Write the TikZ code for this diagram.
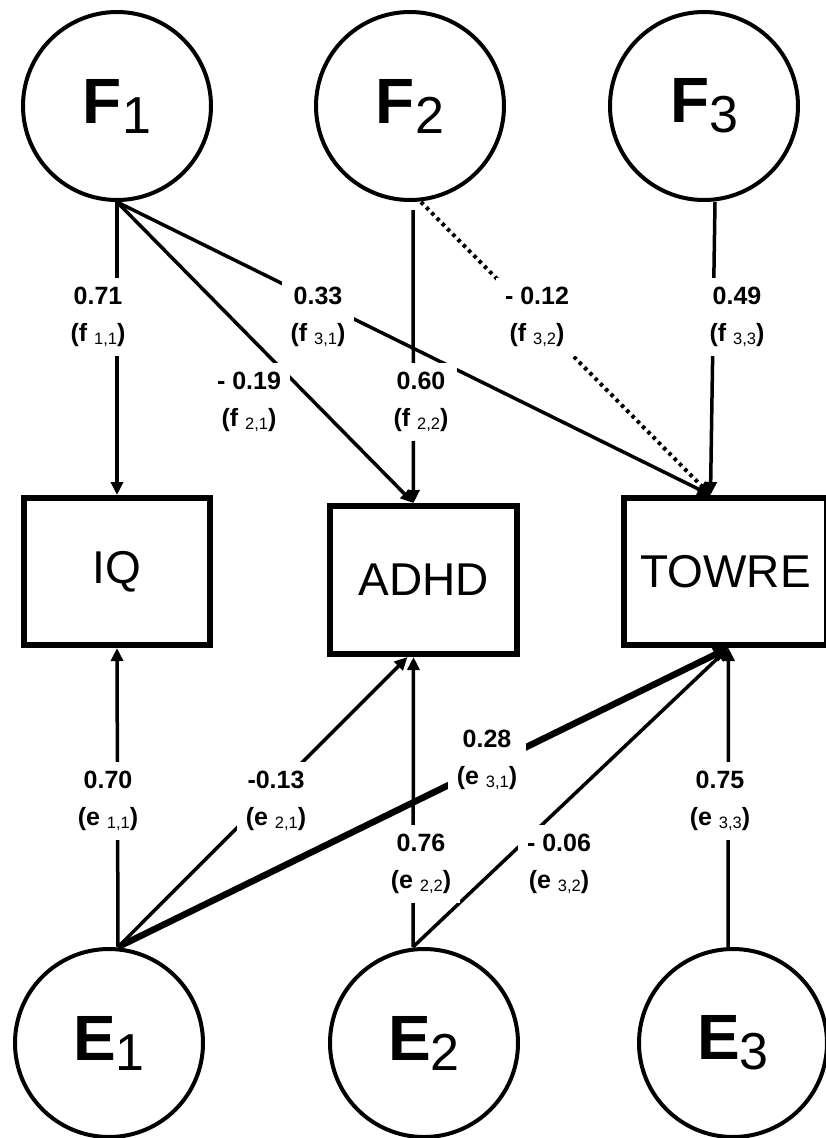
\documentclass[tikz,border=0pt]{standalone}
\usepackage{fontspec}
\setmainfont{Liberation Sans}
\usetikzlibrary{arrows.meta,calc}
\newcommand{\lsub}[1]{{\mdseries\fontsize{16.5}{16.5}\selectfont\raisebox{-3pt}{#1}}}
\newcommand{\bigsub}[2]{{\bfseries #1}{\mdseries\fontsize{52}{52}\selectfont\raisebox{-10pt}{#2}}}
\begin{document}
\begin{tikzpicture}[x=1pt,y=-1pt,
  latent/.style={circle,draw,line width=4pt,minimum size=188pt,inner sep=0pt,font=\fontsize{64}{64}\selectfont},
  obs/.style={rectangle,draw,line width=6pt,inner sep=0pt,font=\fontsize{46}{46}\selectfont},
  conn/.style={line width=3.5pt,-{Triangle[length=13pt,width=12pt]}},
  thickconn/.style={line width=6.5pt,-{Triangle[length=15pt,width=14pt]}},
  dotconn/.style={line width=4pt,dash pattern=on 3.5pt off 4pt,-{Triangle[length=13pt,width=12pt]}},
  lbl/.style={fill=white,align=center,inner xsep=9pt,inner ysep=9pt,font=\fontsize{25}{37}\selectfont\bfseries}]
\useasboundingbox (0,0) rectangle (825,1138);
\fill[white] (0,0) rectangle (825,1138);

% latent factors
\node[latent] (F1) at (117,106) {\bigsub{F}{1}};
\node[latent] (F2) at (410,106) {\bigsub{F}{2}};
\node[latent] (F3) at (704,106) {\bigsub{F}{3}};
% observed
\node[obs,minimum width=186pt,minimum height=147pt] (IQ) at (117,571.5) {IQ};
\node[obs,minimum width=187pt,minimum height=148pt] (ADHD) at (423.5,580) {ADHD};
\node[obs,minimum width=203pt,minimum height=147pt] (TOWRE) at (725.5,571.5) {TOWRE};
% errors
\node[latent] (E1) at (109,1043) {\bigsub{E}{1}};
\node[latent] (E2) at (424,1043) {\bigsub{E}{2}};
\node[latent] (E3) at (733,1043) {\bigsub{E}{3}};

% top paths
\draw[conn] (F1.south) -- (IQ.north);
\draw[conn] (F1.south) -- ([xshift=-10pt]ADHD.north);
\draw[conn] (F1.south) -- ([xshift=-15pt]TOWRE.north);
\draw[conn,shorten <=8pt] ([xshift=3pt]F2.south) -- ([xshift=-10pt]ADHD.north);
\draw[dotconn] ([xshift=11pt]F2.south) -- ([xshift=-15pt]TOWRE.north);
\draw[conn] ([xshift=11pt]F3.south) -- ([xshift=-15pt]TOWRE.north);

% bottom paths
\draw[conn] ([xshift=9pt]E1.north) -- (IQ.south);
\draw[conn] ([xshift=9pt]E1.north) -- ([xshift=-16pt]ADHD.south);
\draw[thickconn] ([xshift=9pt]E1.north) -- ([xshift=3pt]TOWRE.south);
\draw[conn] ([xshift=-11pt]E2.north) -- ([xshift=-10pt]ADHD.south);
\draw[conn] ([xshift=-11pt]E2.north) -- ([xshift=3pt]TOWRE.south);
\draw[conn] ([xshift=-5pt]E3.north) -- ([xshift=3pt]TOWRE.south);

% labels
\node[lbl] (lf11) at (98,317) {0.71\\(f \lsub{1,1})};
\node[lbl] (lf31) at (318,317) {0.33\\(f \lsub{3,1})};
\node[lbl] (lf32) at (537,317) {- 0.12\\(f \lsub{3,2})};
\node[lbl] (lf33) at (737,317) {0.49\\(f \lsub{3,3})};
\node[lbl] (lf21) at (249,402) {- 0.19\\(f \lsub{2,1})};
\node[lbl] (lf22) at (421,402) {0.60\\(f \lsub{2,2})};

\node[lbl] (le11) at (108,801) {0.70\\(e \lsub{1,1})};
\node[lbl] (le21) at (276,801) {-0.13\\(e \lsub{2,1})};
\node[lbl] (le31) at (487,760) {0.28\\(e \lsub{3,1})};
\node[lbl] (le22) at (421,864) {0.76\\(e \lsub{2,2})};
\node[lbl] (le32) at (559,864) {- 0.06\\(e \lsub{3,2})};
\node[lbl] (le33) at (720,801) {0.75\\(e \lsub{3,3})};
\end{tikzpicture}
\end{document}
